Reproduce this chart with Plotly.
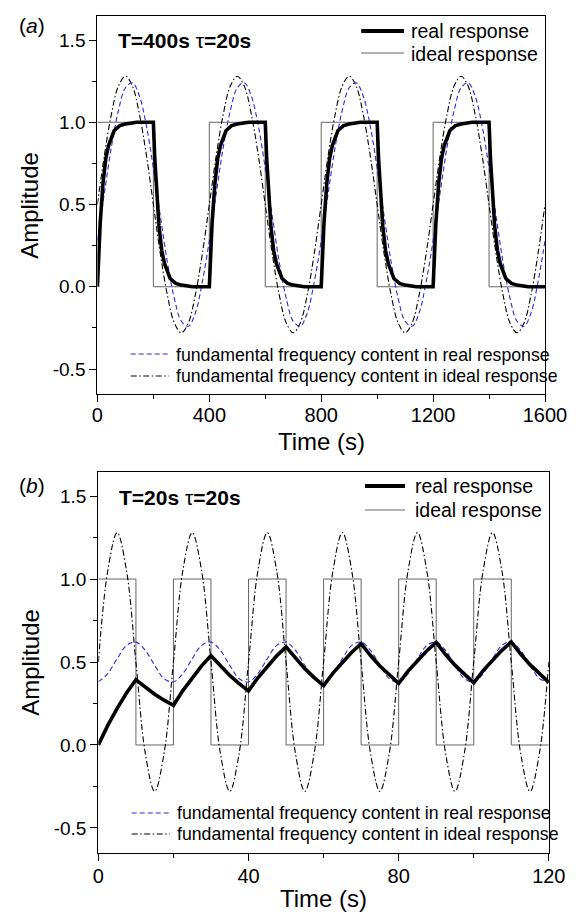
import plotly.graph_objects as go

W, H = 587, 916
FONT = "Liberation Sans, Arial, sans-serif"

# ---------------- Panel (a): T=400 s, tau=20 s ----------------
a_t_fund = list(range(0, 1601, 25))
a_ideal_fund = [
    0.50, 0.80, 1.05, 1.22, 1.28, 1.22, 1.05, 0.80, 0.50, 0.20, -0.05, -0.22, -0.28, -0.22, -0.05, 0.20,
    0.50, 0.80, 1.05, 1.22, 1.28, 1.22, 1.05, 0.80, 0.50, 0.20, -0.05, -0.22, -0.28, -0.22, -0.05, 0.20,
    0.50, 0.80, 1.05, 1.22, 1.28, 1.22, 1.05, 0.80, 0.50, 0.20, -0.05, -0.22, -0.28, -0.22, -0.05, 0.20,
    0.50, 0.80, 1.05, 1.22, 1.28, 1.22, 1.05, 0.80, 0.50, 0.20, -0.05, -0.22, -0.28, -0.22, -0.05, 0.20,
    0.50]
a_real_fund = [
    0.28, 0.57, 0.85, 1.07, 1.21, 1.24, 1.16, 0.98, 0.72, 0.43, 0.15, -0.07, -0.21, -0.24, -0.16, 0.03,
    0.28, 0.57, 0.85, 1.07, 1.21, 1.24, 1.16, 0.98, 0.72, 0.43, 0.15, -0.07, -0.21, -0.24, -0.16, 0.03,
    0.28, 0.57, 0.85, 1.07, 1.21, 1.24, 1.16, 0.98, 0.72, 0.43, 0.15, -0.07, -0.21, -0.24, -0.16, 0.03,
    0.28, 0.57, 0.85, 1.07, 1.21, 1.24, 1.16, 0.98, 0.72, 0.43, 0.15, -0.07, -0.21, -0.24, -0.16, 0.03,
    0.28]
a_t_real = [
    0, 5, 10, 20, 30, 40, 60, 80, 100, 140, 200, 205, 210, 220, 230, 240, 260, 280, 300, 340,
    400, 405, 410, 420, 430, 440, 460, 480, 500, 540, 600, 605, 610, 620, 630, 640, 660, 680, 700, 740,
    800, 805, 810, 820, 830, 840, 860, 880, 900, 940, 1000, 1005, 1010, 1020, 1030, 1040, 1060, 1080, 1100, 1140,
    1200, 1205, 1210, 1220, 1230, 1240, 1260, 1280, 1300, 1340, 1400, 1405, 1410, 1420, 1430, 1440, 1460, 1480, 1500, 1540,
    1600]
a_real = [
    0.00, 0.22, 0.39, 0.63, 0.78, 0.86, 0.95, 0.98, 0.99, 1.00, 1.00, 0.78, 0.61, 0.37, 0.22, 0.14, 0.05, 0.02, 0.01, 0.00,
    0.00, 0.22, 0.39, 0.63, 0.78, 0.86, 0.95, 0.98, 0.99, 1.00, 1.00, 0.78, 0.61, 0.37, 0.22, 0.14, 0.05, 0.02, 0.01, 0.00,
    0.00, 0.22, 0.39, 0.63, 0.78, 0.86, 0.95, 0.98, 0.99, 1.00, 1.00, 0.78, 0.61, 0.37, 0.22, 0.14, 0.05, 0.02, 0.01, 0.00,
    0.00, 0.22, 0.39, 0.63, 0.78, 0.86, 0.95, 0.98, 0.99, 1.00, 1.00, 0.78, 0.61, 0.37, 0.22, 0.14, 0.05, 0.02, 0.01, 0.00,
    0.00]
a_t_square = [0, 200, 200, 400, 400, 600, 600, 800, 800, 1000, 1000, 1200, 1200, 1400, 1400, 1600]
a_square = [1, 1, 0, 0, 1, 1, 0, 0, 1, 1, 0, 0, 1, 1, 0, 0]
a_xticks = [0, 400, 800, 1200, 1600]

# ---------------- Panel (b): T=20 s, tau=20 s ----------------
b_t = [
    0, 2.5, 5, 7.5, 10, 12.5, 15, 17.5, 20, 22.5, 25, 27.5, 30, 32.5, 35, 37.5,
    40, 42.5, 45, 47.5, 50, 52.5, 55, 57.5, 60, 62.5, 65, 67.5, 70, 72.5, 75, 77.5,
    80, 82.5, 85, 87.5, 90, 92.5, 95, 97.5, 100, 102.5, 105, 107.5, 110, 112.5, 115, 117.5,
    120]
b_ideal_fund = [
    0.50, 1.05, 1.28, 1.05, 0.50, -0.05, -0.28, -0.05, 0.50, 1.05, 1.28, 1.05, 0.50, -0.05, -0.28, -0.05,
    0.50, 1.05, 1.28, 1.05, 0.50, -0.05, -0.28, -0.05, 0.50, 1.05, 1.28, 1.05, 0.50, -0.05, -0.28, -0.05,
    0.50, 1.05, 1.28, 1.05, 0.50, -0.05, -0.28, -0.05, 0.50, 1.05, 1.28, 1.05, 0.50, -0.05, -0.28, -0.05,
    0.50]
b_real_fund = [
    0.38, 0.43, 0.52, 0.60, 0.62, 0.57, 0.48, 0.40, 0.38, 0.43, 0.52, 0.60, 0.62, 0.57, 0.48, 0.40,
    0.38, 0.43, 0.52, 0.60, 0.62, 0.57, 0.48, 0.40, 0.38, 0.43, 0.52, 0.60, 0.62, 0.57, 0.48, 0.40,
    0.38, 0.43, 0.52, 0.60, 0.62, 0.57, 0.48, 0.40, 0.38, 0.43, 0.52, 0.60, 0.62, 0.57, 0.48, 0.40,
    0.38]
b_real = [
    0.000, 0.118, 0.221, 0.313, 0.393, 0.347, 0.306, 0.270, 0.239, 0.328, 0.407, 0.477, 0.538, 0.475, 0.419, 0.370,
    0.326, 0.405, 0.475, 0.537, 0.591, 0.522, 0.460, 0.406, 0.358, 0.433, 0.500, 0.559, 0.611, 0.539, 0.476, 0.420,
    0.371, 0.445, 0.510, 0.568, 0.618, 0.545, 0.481, 0.425, 0.375, 0.448, 0.513, 0.570, 0.621, 0.548, 0.484, 0.427,
    0.377]
b_t_square = [0, 10, 10, 20, 20, 30, 30, 40, 40, 50, 50, 60, 60, 70, 70, 80, 80, 90, 90, 100, 100, 110, 110, 120]
b_square = [1, 1, 0, 0, 1, 1, 0, 0, 1, 1, 0, 0, 1, 1, 0, 0, 1, 1, 0, 0, 1, 1, 0, 0]
b_xticks = [0, 40, 80, 120]

y_tickvals = [-0.5, 0.0, 0.5, 1.0, 1.5]
y_ticktext = ["-0.5", "0.0", "0.5", "1.0", "1.5"]
y_minor = [-0.25, 0.25, 0.75, 1.25]

names = ["real response", "ideal response",
         "fundamental frequency content in real response",
         "fundamental frequency content in ideal response"]

GRAY = "#666666"
BLUE = "#2b2bdc"
DASH_BLUE = "5px,3px"
DASH_DD = "6px,2.5px,1.5px,2.5px"

fig = go.Figure()


def add_panel(xa, ya, t_sq, sq, t_f, ideal_f, real_f, t_r, real):
    fig.add_trace(go.Scatter(x=t_sq, y=sq, mode="lines", xaxis=xa, yaxis=ya, name=names[1],
                             line=dict(color=GRAY, width=1), showlegend=False))
    fig.add_trace(go.Scatter(x=t_f, y=ideal_f, mode="lines", xaxis=xa, yaxis=ya, name=names[3],
                             line=dict(color="black", width=1.1, dash=DASH_DD, shape="spline"),
                             showlegend=False))
    fig.add_trace(go.Scatter(x=t_f, y=real_f, mode="lines", xaxis=xa, yaxis=ya, name=names[2],
                             line=dict(color=BLUE, width=1.1, dash=DASH_BLUE, shape="spline"),
                             showlegend=False))
    fig.add_trace(go.Scatter(x=t_r, y=real, mode="lines", xaxis=xa, yaxis=ya, name=names[0],
                             line=dict(color="black", width=3.6), showlegend=False))


add_panel("x", "y", a_t_square, a_square, a_t_fund, a_ideal_fund, a_real_fund, a_t_real, a_real)
add_panel("x2", "y2", b_t_square, b_square, b_t, b_ideal_fund, b_real_fund, b_t, b_real)

axis_common = dict(showline=True, mirror=True, linecolor="black", linewidth=1.3,
                   ticks="outside", ticklen=7, tickwidth=1.3, tickcolor="black",
                   showgrid=False, zeroline=False)
xfont = dict(family=FONT, size=20, color="black")
yfont = dict(family=FONT, size=19, color="black")

fig.update_layout(
    width=W, height=H,
    margin=dict(l=0, r=0, t=0, b=0),
    paper_bgcolor="white", plot_bgcolor="white",
    showlegend=False,
    xaxis=dict(domain=[96 / W, 566 / W], anchor="y", range=[0, 1600],
               tickmode="array", tickvals=a_xticks, tickfont=xfont,
               minor=dict(tickmode="array", tickvals=[200, 600, 1000, 1400], ticks="outside",
                          ticklen=4, tickwidth=1.3, tickcolor="black"),
               ticklabelstandoff=-4, **axis_common),
    yaxis=dict(domain=[1 - 394 / H, 1 - 16 / H], anchor="x", range=[-0.652, 1.646],
               tickmode="array", tickvals=y_tickvals, ticktext=y_ticktext, tickfont=yfont,
               minor=dict(tickmode="array", tickvals=y_minor, ticks="outside",
                          ticklen=4, tickwidth=1.3, tickcolor="black"),
               **axis_common),
    xaxis2=dict(domain=[97 / W, 570 / W], anchor="y2", range=[0, 120],
                tickmode="array", tickvals=b_xticks, tickfont=xfont,
                minor=dict(tickmode="array", tickvals=[20, 60, 100], ticks="outside",
                           ticklen=4, tickwidth=1.3, tickcolor="black"),
                ticklabelstandoff=-2, **axis_common),
    yaxis2=dict(domain=[1 - 853 / H, 1 - 472 / H], anchor="x2", range=[-0.651, 1.645],
                tickmode="array", tickvals=y_tickvals, ticktext=y_ticktext, tickfont=yfont,
                minor=dict(tickmode="array", tickvals=y_minor, ticks="outside",
                           ticklen=4, tickwidth=1.3, tickcolor="black"),
                **axis_common),
)


def px(x):
    return x / W


def py(y):
    return 1 - y / H


def text(x, y, s, size, xanchor="left", angle=0):
    fig.add_annotation(x=px(x), y=py(y), xref="paper", yref="paper", text=s, showarrow=False,
                       xanchor=xanchor, yanchor="middle", textangle=angle,
                       font=dict(family=FONT, size=size, color="black"))


def seg(x0, x1, y, color, width, dash="solid"):
    fig.add_shape(type="line", xref="paper", yref="paper", x0=px(x0), x1=px(x1), y0=py(y), y1=py(y),
                  line=dict(color=color, width=width, dash=dash))


# panel labels and parameter boxes
text(12, 25, "(<i>a</i>)", 21)
text(12, 486, "(<i>b</i>)", 21)
text(116, 41, "<b>T=400s </b>τ<b>=20s</b>", 21)
text(117, 497, "<b>T=20s </b>τ<b>=20s</b>", 21)

# axis titles
text(331, 442, "Time (s)", 24, xanchor="center")
text(333, 898, "Time (s)", 24, xanchor="center")
text(25, 205, "Amplitude", 24, xanchor="center", angle=-90)
text(25, 662, "Amplitude", 24, xanchor="center", angle=-90)

# legend-like keys, panel (a)
seg(373, 418, 31, "black", 4)
seg(373, 418, 53, GRAY, 1)
text(423, 31, names[0], 19.5)
text(423, 54, names[1], 19.5)
seg(131, 171, 354, BLUE, 1.1, DASH_BLUE)
seg(131, 171, 376, "black", 1.1, DASH_DD)
text(176, 355, names[2], 17.7)
text(176, 376, names[3], 17.7)

# legend-like keys, panel (b)
seg(377, 419, 486, "black", 4)
seg(377, 419, 510, GRAY, 1)
text(427, 486, names[0], 19.5)
text(427, 510, names[1], 19.5)
seg(132, 172, 813, BLUE, 1.1, DASH_BLUE)
seg(132, 172, 834, "black", 1.1, DASH_DD)
text(177, 813, names[2], 17.7)
text(177, 834, names[3], 17.7)

fig.write_html("out.html", config={"displayModeBar": False},
               post_script="document.body.style.margin='0px';document.body.style.overflow='hidden';")
